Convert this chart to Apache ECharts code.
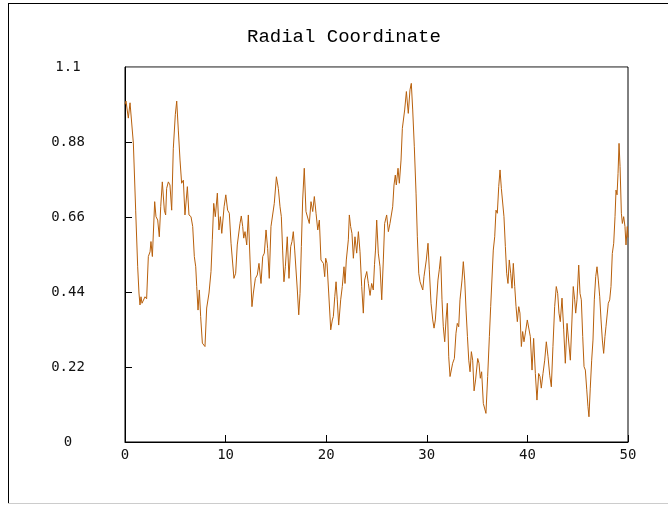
<!DOCTYPE html>
<html>
<head>
<meta charset="utf-8">
<script src="https://cdn.jsdelivr.net/npm/echarts@6/dist/echarts.min.js"></script>
<style>
  html, body { margin: 0; padding: 0; background: #fff; }
  #chart { width: 668px; height: 505px; }
</style>
</head>
<body>
<div id="chart"></div>
<script>
// Radial coordinate sampled over time
const timeSteps = [
  0, 0.1, 0.33, 0.5, 0.6, 0.83, 1.06, 1.26, 1.39, 1.49, 1.59, 1.69, 1.82, 1.99, 2.15, 2.32, 2.49, 2.58, 2.72, 2.82,
  2.95, 3.08, 3.25, 3.41, 3.55, 3.71, 3.91, 4.04, 4.14, 4.31, 4.47, 4.64, 4.8, 5.0,
  5.14, 5.3, 5.47, 5.63, 5.8, 5.96, 6.2, 6.36, 6.56, 6.73, 6.89, 7.03, 7.13, 7.26, 7.39, 7.52, 7.69, 7.82, 7.95,
  8.12, 8.35, 8.55, 8.68, 8.82, 8.98, 9.18, 9.34, 9.48, 9.62, 9.85, 10.02,
  10.2, 10.37, 10.54, 10.7, 10.83, 11.0, 11.16, 11.3, 11.43, 11.56, 11.7, 11.8, 11.93, 12.1, 12.26, 12.43, 12.62,
  12.76, 12.96, 13.15, 13.32, 13.52, 13.69, 13.85, 14.02, 14.18, 14.34, 14.51, 14.68, 14.84, 15.05,
  15.24, 15.41, 15.54, 15.67, 15.8, 15.94, 16.13, 16.3, 16.47, 16.6, 16.73, 16.87, 17.0, 17.13, 17.27, 17.4, 17.53,
  17.66, 17.82, 17.99, 18.16, 18.32, 18.49, 18.66, 18.82, 18.99, 19.16, 19.32, 19.48, 19.62, 19.72, 19.85, 19.95,
  20.08, 20.25, 20.45, 20.61, 20.71, 20.85, 20.98, 21.1, 21.24, 21.44, 21.6, 21.77, 21.87, 22.0, 22.1, 22.2, 22.3,
  22.43, 22.56, 22.7, 22.86, 23.03, 23.2, 23.36, 23.53, 23.69, 23.82, 24.03, 24.19, 24.36, 24.52, 24.68, 24.8,
  24.9, 25.02, 25.18, 25.35, 25.52, 25.68, 25.81, 26.01, 26.18, 26.34, 26.44, 26.61, 26.74, 26.87, 26.97, 27.14,
  27.27, 27.44, 27.57, 27.67, 27.8, 27.97, 28.16, 28.33, 28.46, 28.6, 28.76, 28.93, 29.06, 29.2, 29.33, 29.46,
  29.6, 29.72, 29.85,
  29.95, 30.12, 30.25, 30.42, 30.59, 30.72, 30.85, 30.98, 31.11, 31.24, 31.38, 31.51, 31.64, 31.78, 31.91, 32.04,
  32.18, 32.31, 32.44, 32.57, 32.74, 32.9, 33.03, 33.17, 33.3, 33.5, 33.63, 33.77, 33.9, 34.04, 34.17, 34.3, 34.43,
  34.56, 34.7, 34.85,
  35.06, 35.19, 35.32, 35.45, 35.62, 35.75, 35.88, 36.05, 36.22, 36.35, 36.48, 36.61, 36.75, 36.88, 37.01, 37.15,
  37.28, 37.41, 37.55, 37.67, 37.81, 37.94, 38.07, 38.2, 38.34, 38.47, 38.6, 38.74, 38.87, 39.0, 39.14, 39.26,
  39.4, 39.53, 39.66, 39.8,
  39.99, 40.16, 40.29, 40.46, 40.62, 40.79, 40.95, 41.12, 41.25, 41.38, 41.55, 41.72, 41.88, 42.05, 42.22, 42.38,
  42.54, 42.71, 42.87, 43.01, 43.14, 43.27, 43.44, 43.61, 43.77, 43.94, 44.11, 44.27, 44.43, 44.56, 44.7, 44.8,
  44.93, 45.1, 45.23, 45.36, 45.5, 45.63, 45.76, 45.9, 46.02, 46.12, 46.25, 46.39, 46.52, 46.65, 46.79, 46.92,
  47.05, 47.19, 47.32, 47.45, 47.58, 47.71, 47.81, 47.91, 48.04, 48.18, 48.31, 48.44, 48.58, 48.71, 48.81, 48.91,
  49.01, 49.11, 49.21, 49.34, 49.44, 49.57, 49.7, 49.8, 49.93, 50
];

const radialValues = [
  0.99, 1.0, 0.95, 0.995, 0.99, 0.877, 0.68, 0.514, 0.437, 0.402, 0.426, 0.407, 0.41, 0.426, 0.42, 0.544, 0.558, 0.588, 0.544, 0.613,
  0.705, 0.661, 0.651, 0.602, 0.69, 0.763, 0.68, 0.666, 0.744, 0.763, 0.754, 0.68, 0.86, 0.96,
  1.0, 0.915, 0.827, 0.759, 0.768, 0.666, 0.749, 0.666, 0.661, 0.632, 0.544, 0.514, 0.456, 0.387, 0.446, 0.368, 0.29, 0.29, 0.28,
  0.393, 0.437, 0.5, 0.593, 0.70, 0.661, 0.73, 0.622, 0.661, 0.612, 0.69, 0.725,
  0.68, 0.671, 0.583, 0.525, 0.48, 0.495, 0.578, 0.573, 0.641, 0.663, 0.632, 0.598, 0.617, 0.578, 0.666, 0.534, 0.397,
  0.437, 0.48, 0.49, 0.524, 0.465, 0.544, 0.554, 0.622, 0.568, 0.48, 0.632, 0.637, 0.70, 0.778,
  0.744, 0.69, 0.661, 0.563, 0.47, 0.514, 0.602, 0.48, 0.573, 0.588, 0.617, 0.563, 0.563, 0.446, 0.373, 0.436, 0.573,
  0.71, 0.803, 0.676, 0.671, 0.641, 0.705, 0.676, 0.72, 0.671, 0.622, 0.651, 0.534, 0.539, 0.524, 0.485, 0.539,
  0.524, 0.437, 0.329, 0.358, 0.368, 0.426, 0.47, 0.417, 0.343, 0.417, 0.456, 0.514, 0.465, 0.534, 0.539, 0.593, 0.666,
  0.632, 0.612, 0.539, 0.602, 0.554, 0.617, 0.558, 0.456, 0.378, 0.475, 0.5, 0.465, 0.43, 0.465, 0.446, 0.52,
  0.563, 0.651, 0.554, 0.514, 0.417, 0.534, 0.641, 0.666, 0.617, 0.641, 0.637, 0.69, 0.754, 0.783, 0.754, 0.803,
  0.759, 0.827, 0.92, 0.915, 0.974, 1.028, 0.964, 1.033, 1.052, 0.974, 0.866, 0.73, 0.602, 0.495, 0.47, 0.475,
  0.446, 0.485, 0.48,
  0.534, 0.583, 0.505, 0.407, 0.358, 0.334, 0.358, 0.358, 0.475, 0.505, 0.544, 0.417, 0.338, 0.294, 0.358, 0.407,
  0.25, 0.192, 0.187, 0.231, 0.245, 0.319, 0.348, 0.338, 0.417, 0.475, 0.529, 0.475, 0.387, 0.309, 0.24, 0.206, 0.265,
  0.24, 0.15, 0.182,
  0.245, 0.231, 0.187, 0.206, 0.113, 0.118, 0.084, 0.192, 0.309, 0.397, 0.397, 0.563, 0.602, 0.68, 0.671, 0.749,
  0.798, 0.744, 0.749, 0.661, 0.573, 0.495, 0.465, 0.534, 0.495, 0.451, 0.524, 0.456, 0.397, 0.353, 0.397, 0.378,
  0.28, 0.324, 0.294, 0.32,
  0.358, 0.363, 0.309, 0.211, 0.304, 0.201, 0.123, 0.201, 0.192, 0.158, 0.201, 0.24, 0.294, 0.25, 0.196, 0.162,
  0.28, 0.397, 0.456, 0.436, 0.378, 0.353, 0.422, 0.329, 0.231, 0.348, 0.353, 0.24, 0.358, 0.456, 0.417, 0.378,
  0.417, 0.519, 0.436, 0.417, 0.309, 0.221, 0.211, 0.153, 0.104, 0.074, 0.158, 0.24, 0.299, 0.417, 0.485, 0.514,
  0.475, 0.426, 0.358, 0.299, 0.26, 0.309, 0.338, 0.333, 0.407, 0.417, 0.456, 0.553, 0.583, 0.661, 0.739, 0.725,
  0.788, 0.876, 0.808, 0.671, 0.641, 0.661, 0.632, 0.578, 0.632, 0.6
];

// Axis ranges and tick steps
const xRange = [0, 50];
const xStep = 10;
const yRange = [0, 1.1];
const yStep = 0.22;

const chartTitle = 'Radial Coordinate';

const points = timeSteps.map((t, i) => [t, radialValues[i]]);

const fmtY = v => String(Math.round(v * 100) / 100);

const chart = echarts.init(document.getElementById('chart'), null, { renderer: 'canvas' });

const labelFont = { fontFamily: 'DejaVu Sans Mono', fontSize: 14, color: '#111' };

chart.setOption({
  backgroundColor: '#fff',
  animation: false,
  title: {
    text: chartTitle,
    left: 242,
    top: 22,
    textStyle: { fontFamily: 'Liberation Mono', fontSize: 19, fontWeight: 'normal', color: '#000' }
  },
  grid: {
    left: 125, right: 40, top: 67, bottom: 63, containLabel: false,
    show: true, borderColor: '#000', borderWidth: 1, backgroundColor: 'transparent'
  },
  xAxis: {
    type: 'value', min: xRange[0], max: xRange[1], interval: xStep, position: 'bottom',
    axisLine: { show: true, lineStyle: { color: '#000', width: 1 } },
    axisTick: { show: true, inside: true, length: 7, lineStyle: { color: '#000' } },
    axisLabel: Object.assign({ margin: 6 }, labelFont),
    splitLine: { show: false }
  },
  yAxis: {
    type: 'value', min: yRange[0], max: yRange[1], interval: yStep, position: 'left',
    axisLine: { show: true, lineStyle: { color: '#000', width: 1 } },
    axisTick: { show: true, inside: true, length: 7, lineStyle: { color: '#000' } },
    axisLabel: Object.assign({ margin: 57, align: 'center', padding: [9, 0, 0, 0], formatter: fmtY }, labelFont),
    splitLine: { show: false }
  },
  series: [{
    type: 'line',
    data: points,
    showSymbol: false,
    symbol: 'none',
    lineStyle: { color: '#b8600c', width: 1 },
    clip: true
  }],
  graphic: [
    // grey top edge of the plot box
    { type: 'line', z: 100, shape: { x1: 126, y1: 67.5, x2: 627, y2: 67.5 }, style: { stroke: '#999', lineWidth: 1 } },
    // page frame
    { type: 'line', shape: { x1: 8.5, y1: 3.5, x2: 8.5, y2: 503 }, style: { stroke: '#000', lineWidth: 1 } },
    { type: 'line', shape: { x1: 8, y1: 3.5, x2: 668, y2: 3.5 }, style: { stroke: '#000', lineWidth: 1 } },
    { type: 'line', shape: { x1: 8, y1: 503.5, x2: 668, y2: 503.5 }, style: { stroke: '#ccc', lineWidth: 1 } }
  ]
});
</script>
</body>
</html>
